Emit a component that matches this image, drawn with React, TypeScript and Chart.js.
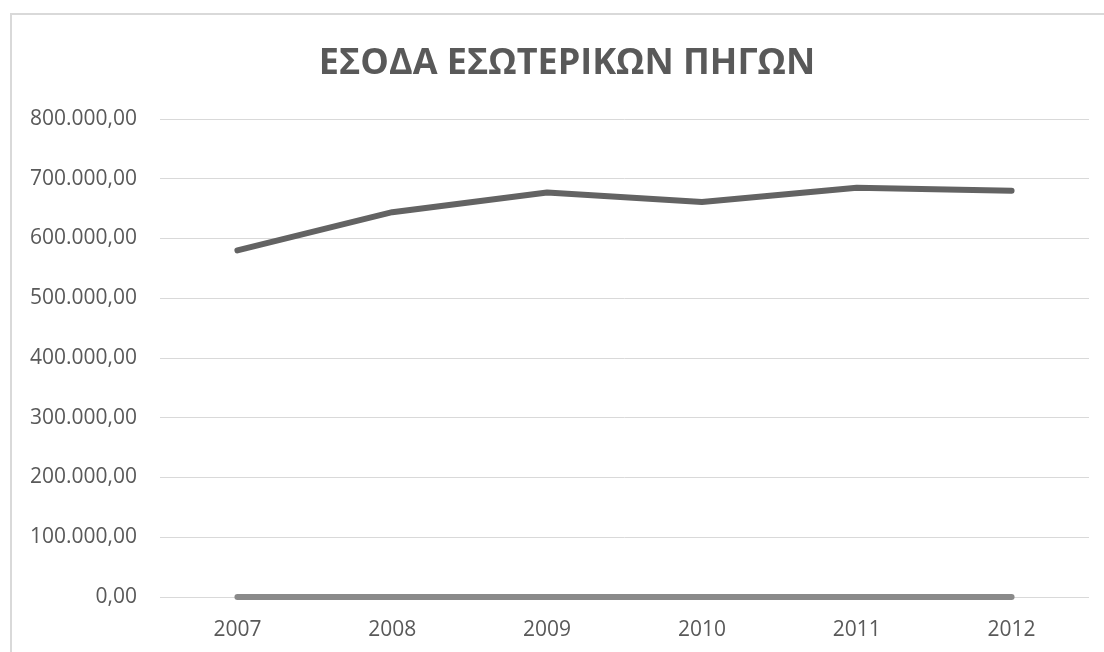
import React, { useEffect, useRef } from "react";
import { Chart, registerables } from "chart.js";

Chart.register(...registerables);

const title = "ΕΣΟΔΑ ΕΣΩΤΕΡΙΚΩΝ ΠΗΓΩΝ";
const years = ["2007", "2008", "2009", "2010", "2011", "2012"];
const revenue = [580000, 644000, 677000, 661000, 685000, 680000];
const zeroSeries = [0, 0, 0, 0, 0, 0];
const yMin = 0;
const yMax = 800000;
const yStep = 100000;

function formatGreek(v: number): string {
  const fixed = Math.abs(v).toFixed(2);
  const [intPart, dec] = fixed.split(".");
  const withDots = intPart.replace(/\B(?=(\d{3})+(?!\d))/g, ".");
  return (v < 0 ? "-" : "") + withDots + "," + dec;
}

const W = 1104;
const H = 652;

const decorPlugin = {
  id: "decor",
  beforeDraw(chart: any) {
    const ctx = chart.ctx;
    ctx.save();
    ctx.fillStyle = "#ffffff";
    ctx.fillRect(0, 0, W, H);
    ctx.fillStyle = "#d9d9d9";
    ctx.fillRect(10, 13, 2, H);
    ctx.fillRect(10, 13, W, 2);
    ctx.fillStyle = "#595959";
    ctx.font = "bold 36px 'Open Sans'";
    ctx.textAlign = "center";
    ctx.textBaseline = "alphabetic";
    ctx.fillText(title, 567, 74);
    ctx.restore();
  },
};

export default function App() {
  const ref = useRef<HTMLCanvasElement | null>(null);
  useEffect(() => {
    if (!ref.current) return;
    const chart = new Chart(ref.current, {
      type: "line",
      data: {
        labels: years,
        datasets: [
          {
            label: "Έσοδα",
            data: revenue,
            borderColor: "#636363",
            backgroundColor: "#636363",
            borderWidth: 6,
            borderCapStyle: "round",
            borderJoinStyle: "round",
            pointRadius: 0,
            tension: 0,
            clip: false,
          },
          {
            label: "Σειρά 2",
            data: zeroSeries,
            borderColor: "#8a8a8a",
            backgroundColor: "#8a8a8a",
            borderWidth: 6,
            borderCapStyle: "round",
            borderJoinStyle: "round",
            pointRadius: 0,
            tension: 0,
            clip: false,
          },
        ],
      },
      options: {
        responsive: false,
        animation: false,
        devicePixelRatio: 1,
        layout: { padding: { left: 0, right: 15, top: 119, bottom: 0 } },
        plugins: {
          legend: { display: false },
          title: { display: false },
          tooltip: { enabled: false },
        },
        scales: {
          x: {
            offset: true,
            grid: { display: false, drawTicks: false },
            border: { display: false },
            ticks: {
              color: "#595959",
              font: { family: "'Open Sans'", size: 21 },
              padding: 20,
              maxRotation: 0,
            },
            afterFit(scale: any) {
              scale.height = 55;
            },
          },
          y: {
            min: yMin,
            max: yMax,
            grid: { color: "#d9d9d9", lineWidth: 1, drawTicks: false },
            border: { display: false },
            ticks: {
              stepSize: yStep,
              color: "#595959",
              font: { family: "'Open Sans'", size: 21 },
              padding: 23,
              callback: (v: any) => formatGreek(Number(v)),
            },
            afterFit(scale: any) {
              scale.width = 160;
            },
          },
        },
      },
      plugins: [decorPlugin],
    });
    return () => chart.destroy();
  }, []);
  return (
    <div style={{ position: "fixed", left: 0, top: 0, width: W, height: H, background: "#fff" }}>
      <canvas ref={ref} width={W} height={H} style={{ width: W, height: H, display: "block" }} />
    </div>
  );
}
